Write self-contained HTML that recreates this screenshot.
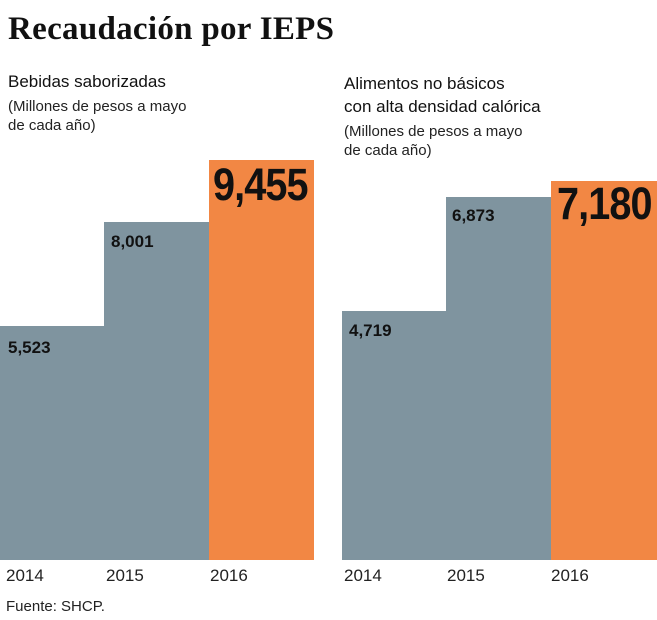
<!DOCTYPE html>
<html><head><meta charset="utf-8"><style>
body{margin:0;width:657px;height:620px;background:#fff;position:relative;overflow:hidden;font-family:"Liberation Sans",sans-serif;color:#1a1a1a}
div{position:absolute}
.g{background:#7f949f}.o{background:#f28744}
.v{font-weight:bold;font-size:17px;color:#111}
.b{font-family:"Liberation Sans Narrow","Liberation Sans",sans-serif;font-weight:bold;font-size:45px;color:#111;transform:scaleX(0.88);transform-origin:left top;letter-spacing:-1px}
.y{font-size:17px;top:566px;color:#222}
.h{font-size:17px;color:#111}
.s{font-size:15px;color:#222;line-height:19px}
</style></head><body>
<div style="left:8px;top:11px;font-family:'Liberation Serif',serif;font-weight:bold;font-size:33px;color:#111;letter-spacing:0.3px">Recaudación por IEPS</div>
<div class="h" style="left:8px;top:72px">Bebidas saborizadas</div>
<div class="s" style="left:8px;top:97px">(Millones de pesos a mayo<br>de cada año)</div>
<div class="h" style="left:344px;top:72px;line-height:23px">Alimentos no básicos<br>con alta densidad calórica</div>
<div class="s" style="left:344px;top:122px">(Millones de pesos a mayo<br>de cada año)</div>
<div class="g" style="left:0;top:326px;width:105px;height:234px"></div>
<div class="g" style="left:104px;top:222px;width:106px;height:338px"></div>
<div class="o" style="left:209px;top:160px;width:105px;height:400px"></div>
<div class="g" style="left:342px;top:311px;width:105px;height:249px"></div>
<div class="g" style="left:446px;top:197px;width:106px;height:363px"></div>
<div class="o" style="left:551px;top:181px;width:106px;height:379px"></div>
<div class="v" style="left:8px;top:338px">5,523</div>
<div class="v" style="left:111px;top:232px">8,001</div>
<div class="b" style="left:213px;top:159px">9,455</div>
<div class="v" style="left:349px;top:321px">4,719</div>
<div class="v" style="left:452px;top:206px">6,873</div>
<div class="b" style="left:557px;top:178px">7,180</div>
<div class="y" style="left:6px">2014</div>
<div class="y" style="left:106px">2015</div>
<div class="y" style="left:210px">2016</div>
<div class="y" style="left:344px">2014</div>
<div class="y" style="left:447px">2015</div>
<div class="y" style="left:551px">2016</div>
<div style="left:6px;top:598px;font-size:15px;color:#222">Fuente: SHCP.</div>
</body></html>
